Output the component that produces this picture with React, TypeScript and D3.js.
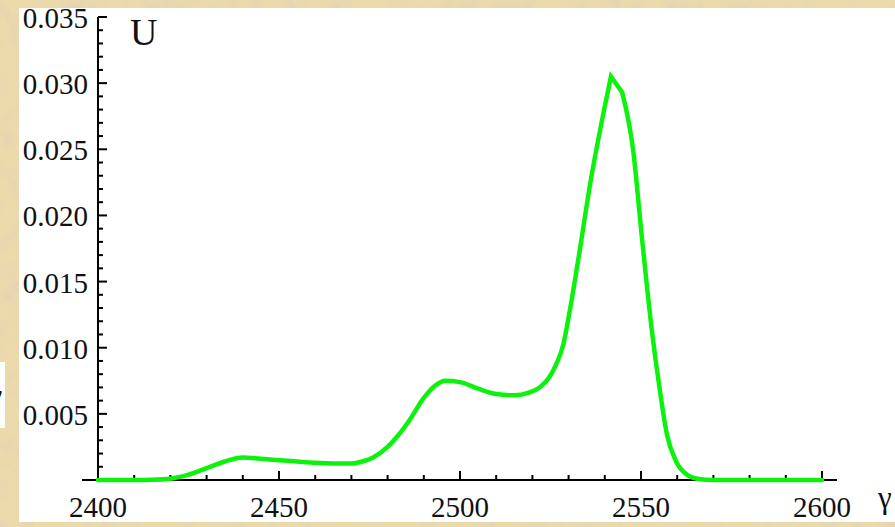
import React, { useRef, useEffect } from "react";
import * as d3 from "d3";

const gamma = [2400, 2410, 2415, 2420, 2425, 2430, 2435, 2440, 2445, 2450, 2455, 2460, 2465, 2470, 2473, 2476, 2480, 2483, 2486, 2490, 2493, 2496, 2500, 2505, 2510, 2515, 2519, 2522, 2524.5, 2526.5, 2528.5, 2530.4, 2533.1, 2535.9, 2539.6, 2541.7, 2544.8, 2547.8, 2550.3, 2553.0, 2555.2, 2557.2, 2559.7, 2562.7, 2565.5, 2570, 2580, 2590, 2600];
const uValues = [0, 0, 0.00002, 0.0001, 0.0004, 0.0009, 0.0014, 0.0017, 0.0016, 0.0015, 0.0014, 0.0013, 0.00125, 0.00125, 0.0014, 0.0017, 0.0025, 0.0034, 0.0045, 0.0062, 0.0071, 0.0075, 0.0074, 0.0069, 0.0065, 0.0064, 0.0066, 0.0070, 0.0077, 0.0087, 0.0102, 0.0129, 0.0174, 0.0223, 0.0277, 0.0305, 0.0293, 0.0250, 0.0182, 0.0113, 0.0068, 0.0034, 0.0014, 0.0004, 0.0001, 0, 0, 0, 0];
const xTicks = [2400, 2450, 2500, 2550, 2600];
const yTicks = [0.005, 0.010, 0.015, 0.020, 0.025, 0.030, 0.035];

const W = 895;
const H = 527;

const App = () => {
  const ref = useRef(null);

  useEffect(() => {
    const svg = d3.select(ref.current);
    svg.selectAll("*").remove();

    const x = d3.scaleLinear().domain([2400, 2600]).range([98, 822]);
    const y = d3.scaleLinear().domain([0, 0.035]).range([480, 17]);
    const font = '"Liberation Serif", "DejaVu Serif", serif';

    // parchment background
    const defs = svg.append("defs");
    const filt = defs.append("filter").attr("id", "paper").attr("x", 0).attr("y", 0).attr("width", "100%").attr("height", "100%");
    filt.append("feTurbulence").attr("type", "fractalNoise").attr("baseFrequency", 0.05).attr("numOctaves", 4).attr("seed", 7);
    filt.append("feColorMatrix").attr("type", "matrix")
      .attr("values", "0 0 0 0 0.78  0 0 0 0 0.66  0 0 0 0 0.45  0 0 0 -3 1.6");
    svg.append("rect").attr("width", W).attr("height", H).attr("fill", "#ecdaac");
    svg.append("rect").attr("width", W).attr("height", H).attr("filter", "url(#paper)").attr("opacity", 0.9);

    // white panels
    svg.append("rect").attr("x", 19).attr("y", 8).attr("width", W - 19).attr("height", 514).attr("fill", "#fff");
    svg.append("rect").attr("x", 0).attr("y", 362).attr("width", 5).attr("height", 66).attr("fill", "#fff");
    svg.append("text").attr("x", -11).attr("y", 405).style("font-family", font).attr("font-size", 30).attr("fill", "#111").text("γ");

    const g = svg.append("g").attr("stroke", "#000").attr("stroke-width", 2);

    // axes lines
    g.append("line").attr("x1", 82).attr("x2", 837).attr("y1", y(0)).attr("y2", y(0));
    g.append("line").attr("x1", x(2400)).attr("x2", x(2400)).attr("y1", y(0.035)).attr("y2", y(0));

    // x ticks
    d3.range(2400, 2601, 10).forEach((v) => {
      const major = v % 50 === 0;
      g.append("line").attr("x1", x(v)).attr("x2", x(v)).attr("y1", y(0)).attr("y2", y(0) - (major ? 9 : 5));
    });
    // y ticks
    d3.range(1, 36).forEach((i) => {
      const v = i * 0.001;
      const major = i % 5 === 0;
      g.append("line").attr("x1", x(2400)).attr("x2", x(2400) + (major ? 9 : 5)).attr("y1", y(v)).attr("y2", y(v));
    });

    svg.append("g").selectAll("text").data(xTicks).enter().append("text")
      .attr("x", (d) => x(d)).attr("y", 517).attr("text-anchor", "middle")
      .style("font-family", font).attr("font-size", 29).attr("fill", "#111")
      .text((d) => d);

    svg.append("g").selectAll("text").data(yTicks).enter().append("text")
      .attr("x", 88).attr("y", (d) => y(d) + 11).attr("text-anchor", "end")
      .style("font-family", font).attr("font-size", 29).attr("fill", "#111")
      .text((d) => d3.format(".3f")(d));

    svg.append("text").attr("x", 130).attr("y", 45).style("font-family", font).attr("font-size", 38).attr("fill", "#111").text("U");
    svg.append("text").attr("x", 878).attr("y", 508).style("font-family", font).attr("font-size", 31).attr("fill", "#111").text("γ");

    const pts = gamma.map((gv, i) => [gv, uValues[i]]);
    const peak = d3.maxIndex(uValues);
    const smooth = d3.line().x((d) => x(d[0])).y((d) => y(d[1])).curve(d3.curveMonotoneX);
    const sharp = d3.line().x((d) => x(d[0])).y((d) => y(d[1])).curve(d3.curveLinear);

    const pieces = [
      { d: pts.slice(0, peak), fn: smooth },
      { d: pts.slice(peak - 1, peak + 2), fn: sharp },
      { d: pts.slice(peak + 1), fn: smooth },
    ];
    const path = pieces.map((p) => p.fn(p.d)).join(" ");

    svg.append("path")
      .attr("d", path)
      .attr("fill", "none")
      .attr("stroke", "#0df20d")
      .attr("stroke-width", 4.5)
      .attr("stroke-linejoin", "miter")
      .attr("stroke-linecap", "round");
  }, []);

  return (
    <svg ref={ref} width={W} height={H} style={{ position: "absolute", left: 0, top: 0 }} />
  );
};

export default App;
